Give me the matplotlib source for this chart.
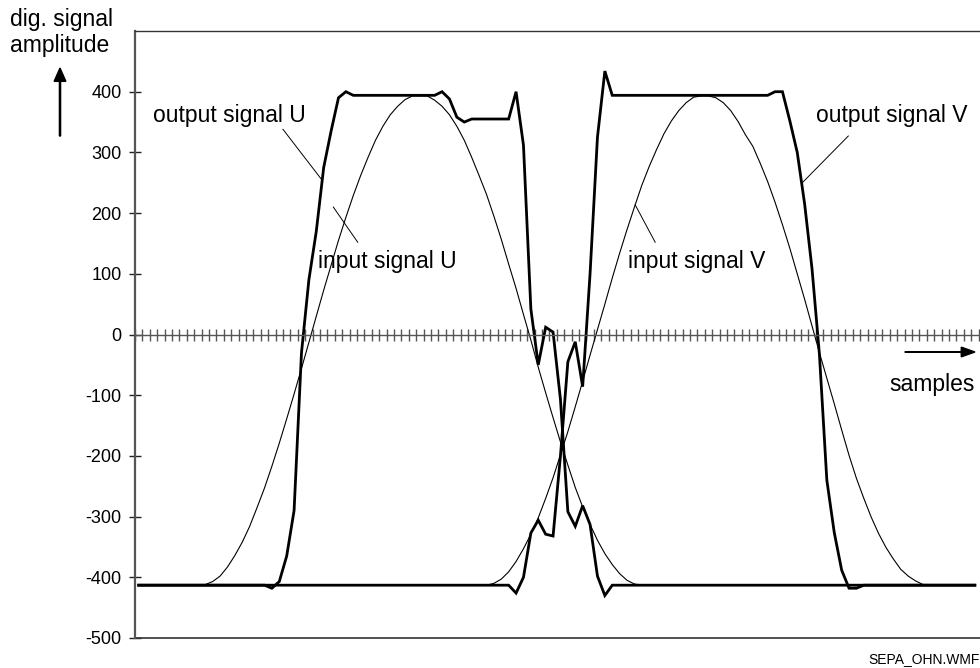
import numpy as np
import matplotlib
matplotlib.use("Agg")
import matplotlib.pyplot as plt

# Sample values (digital amplitude) for each trace, one value per sample
input_u = [-413, -413, -413, -413, -413, -413, -413, -413, -413, -412,
           -407, -398, -383, -364, -342, -316, -285, -253, -217, -179,
           -139, -98, -56, -13, 30, 73, 114, 155, 193, 229,
           262, 292, 320, 343, 362, 376, 387, 393, 393, 393,
           386, 376, 362, 343, 320, 292, 262, 231, 195, 157,
           116, 76, 33, -9, -54, -96, -137, -177, -215, -252,
           -284, -313, -339, -361, -379, -394, -405, -411, -413, -413,
           -413, -413, -413, -413, -413, -413, -413, -413, -413, -413,
           -413, -413, -413, -413, -413, -413, -413, -413, -413, -413,
           -413, -413, -413, -413, -413, -413, -413, -413, -413, -413,
           -413, -413, -413, -413, -413, -413, -413, -413, -413, -413,
           -413, -413, -413, -413]

input_v = [-413, -413, -413, -413, -413, -413, -413, -413, -413, -413,
           -413, -413, -413, -413, -413, -413, -413, -413, -413, -413,
           -413, -413, -413, -413, -413, -413, -413, -413, -413, -413,
           -413, -413, -413, -413, -413, -413, -413, -413, -413, -413,
           -413, -413, -413, -413, -413, -413, -413, -413, -410, -403,
           -391, -374, -353, -329, -302, -270, -236, -198, -160, -119,
           -77, -34, 8, 50, 93, 134, 173, 210, 246, 277,
           305, 331, 352, 369, 382, 391, 393, 393, 390, 382,
           369, 351, 329, 310, 282, 252, 218, 181, 142, 100,
           58, 14, -30, -72, -114, -157, -199, -237, -270, -301,
           -328, -351, -370, -387, -398, -406, -412, -413, -413, -413,
           -413, -413, -413, -413]

output_u = [-413, -413, -413, -413, -413, -413, -413, -413, -413, -413,
            -413, -413, -413, -413, -413, -413, -413, -413, -418, -407,
            -365, -290, -30, 90, 170, 275, 335, 390, 400, 394,
            394, 394, 394, 394, 394, 394, 394, 394, 394, 394,
            394, 400, 388, 358, 350, 355, 355, 355, 355, 355,
            355, 400, 312, 42, -50, 12, 4, -107, -292, -316,
            -282, -313, -398, -430, -413, -413, -413, -413, -413, -413,
            -413, -413, -413, -413, -413, -413, -413, -413, -413, -413,
            -413, -413, -413, -413, -413, -413, -413, -413, -413, -413,
            -413, -413, -413, -413, -413, -413, -413, -413, -413, -413,
            -413, -413, -413, -413, -413, -413, -413, -413, -413, -413,
            -413, -413, -413, -413]

output_v = [-413, -413, -413, -413, -413, -413, -413, -413, -413, -413,
            -413, -413, -413, -413, -413, -413, -413, -413, -413, -413,
            -413, -413, -413, -413, -413, -413, -413, -413, -413, -413,
            -413, -413, -413, -413, -413, -413, -413, -413, -413, -413,
            -413, -413, -413, -413, -413, -413, -413, -413, -413, -413,
            -413, -426, -400, -327, -306, -329, -332, -200, -45, -12,
            -86, 100, 325, 434, 394, 394, 394, 394, 394, 394,
            394, 394, 394, 394, 394, 394, 394, 394, 394, 394,
            394, 394, 394, 394, 394, 394, 400, 400, 352, 300,
            215, 108, -33, -240, -326, -388, -418, -418, -413, -413,
            -413, -413, -413, -413, -413, -413, -413, -413, -413, -413,
            -413, -413, -413, -413]

y_ticks = [400, 300, 200, 100, 0, -100, -200, -300, -400, -500]

n = np.arange(len(input_u))

plt.rcParams['font.family'] = ['Liberation Sans', 'DejaVu Sans']

fig = plt.figure(figsize=(9.8, 6.68), dpi=100)
ax = fig.add_axes([135/980, 1 - 638/668, 1 - 135/980, 607/668])

gris = '#555555'

# Courbes : entrées en trait fin, sorties en trait épais
ax.plot(n, input_u, color='k', lw=0.8)
ax.plot(n, input_v, color='k', lw=0.8)
ax.plot(n, output_u, color='k', lw=2.0, solid_joinstyle='miter')
ax.plot(n, output_v, color='k', lw=2.0, solid_joinstyle='miter')

ax.set_xlim(-0.5, 113.7)
ax.set_ylim(-500, 500)

# Axe des échantillons sur la ligne zéro, graduations traversantes
ax.spines['bottom'].set_position(('data', 0))
ax.spines['bottom'].set_color(gris)
ax.spines['bottom'].set_linewidth(1.0)
ax.set_xticks(np.arange(-0.5, 114, 1.0))
ax.tick_params(axis='x', direction='inout', length=9, width=1.0,
               color=gris, labelbottom=False)

ax.spines['right'].set_visible(False)
ax.spines['top'].set_color('#333333')
ax.spines['top'].set_linewidth(1.0)
ax.spines['left'].set_color(gris)
ax.spines['left'].set_linewidth(1.6)
ax.axhline(-500, color='#333333', lw=1.2, clip_on=False)

ax.set_yticks(y_ticks)
ax.set_yticklabels([str(v) for v in y_ticks])
ax.tick_params(axis='y', direction='inout', length=9, width=1.0,
               color='#222222', labelsize=13, pad=5)

# Libellés des axes
fig.text(10/980, 1 - 26/668, 'dig. signal', fontsize=16.5,
         ha='left', va='baseline')
fig.text(10/980, 1 - 52/668, 'amplitude', fontsize=16.5,
         ha='left', va='baseline')
fig.patches.append(matplotlib.patches.FancyArrow(
    60/980, 1 - 136/668, 0, 68/668, width=0.0012, head_width=0.012,
    head_length=0.02, length_includes_head=True, color='k',
    transform=fig.transFigure))
fig.text(975/980, 1 - 385/668, 'samples', fontsize=16.5, ha='right', va='center')
fig.patches.append(matplotlib.patches.FancyArrow(
    905/980, 1 - 352/668, 70/980, 0, width=0.0012 * 668/980,
    head_width=0.018 * 980/668 * 0.55, head_length=0.014,
    length_includes_head=True, color='k', transform=fig.transFigure))

# Étiquettes des courbes avec traits de rappel
def rappel(texte, tx, ty, x0, y0, x1, y1):
    ax.text(tx, ty, texte, fontsize=16.5, ha='left', va='center')
    ax.plot([x0, x1], [y0, y1], color='k', lw=0.7)

rappel('output signal U', 2.0, 360, 19.5, 338,
       24.8, np.interp(24.8, n, output_u))
rappel('output signal V', 91.5, 360, 95.9, 327,
       89.6, np.interp(89.6, n, output_v))
rappel('input signal U', 24.2, 120, 29.6, 152, 26.3, 210)
rappel('input signal V', 66.1, 120, 69.8, 152,
       67.1, np.interp(67.1, n, input_v))

fig.text(868/980, 1 - 659/668, 'SEPA_OHN.WMF', fontsize=10, ha='left', va='center')

fig.savefig('out.png', dpi=100)
